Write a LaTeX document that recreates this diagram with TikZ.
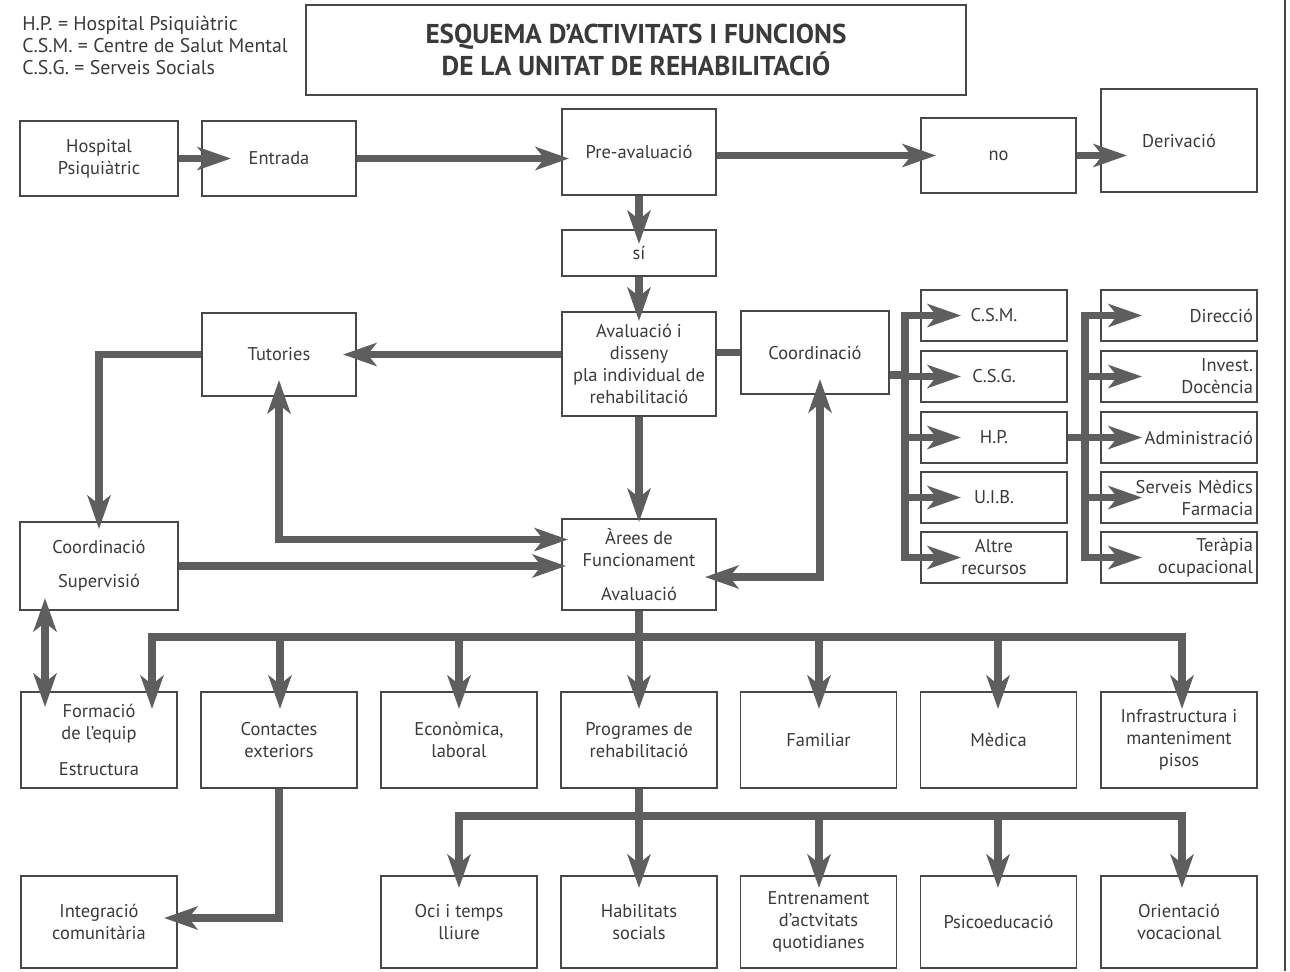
\documentclass[tikz,border=0pt]{standalone}
\usepackage{fontspec}
\setmainfont{PT Sans}
\usetikzlibrary{arrows.meta}
\begin{document}
\begin{tikzpicture}[x=0.02cm, y=-0.02cm]

\definecolor{linkgray}{HTML}{5E5E5E}
\definecolor{boxgray}{HTML}{484848}
\definecolor{textgray}{HTML}{3A3A3A}

%\path (0,0) grid (1290,971);
\useasboundingbox (0,0) rectangle (1290,971);

% styles
\pgfkeys{/txt/.style={text=textgray, node font=\fontsize{10.5}{12.5}\selectfont}} % base style for texts
\pgfkeys{/box/.style={/txt, draw=boxgray, line width=1.1pt, align=center, inner sep=0}} % boxes
\pgfkeys{/sz/.style 2 args={minimum width=#1*0.02cm, minimum height=#2*0.02cm}} % box size in pixels
\pgfkeys{/link/.style={draw=linkgray, line width=4.3pt, -{Stealth[length=19pt, width=13pt, inset=5pt]}}} % arrows
\pgfkeys{/both/.style={/link, {Stealth[length=19pt, width=13pt, inset=5pt]}-{Stealth[length=19pt, width=13pt, inset=5pt]}}} % double arrows
\pgfkeys{/bar/.style={draw=linkgray, line width=4.3pt}} % lines without tips
\pgfkeys{/dig/.style={shorten >=-#1*0.02cm}} % tip reaching into the box
\pgfkeys{/digback/.style={shorten <=-#1*0.02cm}}

% legend and title
\node[/txt, anchor=north west, align=left, inner sep=0, font=\fontsize{11.3}{12.5}\selectfont] (legend) at (22,16)
  {H.P. = Hospital Psiquiàtric\\C.S.M. = Centre de Salut Mental\\C.S.G. = Serveis Socials};
\node[/box, /sz={660}{90}, font=\bfseries\fontsize{15.5}{16.5}\selectfont] (title) at (636,50)
  {ESQUEMA D'ACTIVITATS I FUNCIONS\\DE LA UNITAT DE REHABILITACIÓ};

% first rows
\node[/box, /sz={158}{75}] (hosp) at (99,158.5) {Hospital\\Psiquiàtric};
\node[/box, /sz={154}{75}] (entrada) at (279,158.5) {Entrada};
\node[/box, /sz={154}{86}] (preav) at (639,152) {Pre-avaluació};
\node[/box, /sz={155}{75}] (no) at (998.5,155.5) {no};
\node[/box, /sz={156}{103}] (deriv) at (1179,140.5) {Derivació};
\node[/box, /sz={154}{46}] (si) at (639,253) {sí};
\node[/box, /sz={154}{104}] (aval) at (639,364) {Avaluació i\\disseny\\pla individual de\\rehabilitació};
\node[/box, /sz={148}{83}] (coord) at (815,352.5) {Coordinació};
\node[/box, /sz={154}{83}] (tut) at (279,354.5) {Tutories};
\node[/box, /sz={154}{91}] (arees) at (639,564.5) {Àrees de\\Funcionament\\[7pt]Avaluació};
\node[/box, /sz={158}{88}] (coordsup) at (99,566) {Coordinació\\[7pt]Supervisió};

% the two columns on the right
\foreach \n/\y/\t in {csm/315.5/C.S.M., csg/376.5/C.S.G., hp/437.5/H.P., uib/497.5/U.I.B., altre/557.5/{Altre\\recursos}} {
  \node[/box, /sz={146}{51}] (\n) at (994,\y) {\t};
}
\foreach \n/\y/\t in {direc/315.5/Direcció, invest/376.5/{Invest.\\Docència}, admin/437.5/Administració, serveis/497.5/{Serveis Mèdics\\Farmacia}, terapia/557.5/{Teràpia\\ocupacional}} {
  \node[/box, /sz={156}{51}, text width=148*0.02cm, align=right] (\n) at (1179,\y) {\t};
}

% row of areas
\foreach \n/\x/\t in {formacio/99/{Formació\\de l'equip\\[8pt]Estructura}, contactes/279/{Contactes\\exteriors}, economica/459/{Econòmica,\\laboral}, programes/639/{Programes de\\rehabilitació}, familiar/818.5/Familiar, medica/998.5/Mèdica, infra/1179/{Infrastructura i\\manteniment\\pisos}} {
  \node[/box, /sz={156}{96}] (\n) at (\x,740) {\t};
}
% row of programmes
\foreach \n/\x/\t in {integracio/99/{Integració\\comunitària}, oci/459/{Oci i temps\\lliure}, habilitats/639/{Habilitats\\socials}, entrenament/818.5/{Entrenament\\d'actvitats\\quotidianes}, psico/998.5/Psicoeducació, orientacio/1179/{Orientació\\vocacional}} {
  \node[/box, /sz={156}{92}] (\n) at (\x,922) {\t};
}

% frame line on the right
\draw[boxgray, line width=1.1pt] (1285,0) -- (1285,971);

% bus coordinates
\coordinate (busL) at (905,0);
\coordinate (busR) at (1085,0);
\coordinate (busA) at (0,637);
\coordinate (busB) at (0,816);

% entry flow
\draw[/link, /dig=30] (hosp.east) -- (hosp.east -| entrada.west);
\draw[/link, /dig=8] (entrada.east) -- (entrada.east -| preav.west);
\draw[/link, /dig=16] (preav.east |- no.west) -- (no.west);
\draw[/link, /dig=27] (no.east) -- (no.east -| deriv.west);
\draw[/link, /dig=15] (preav) -- (si);
\draw[/link, /dig=10] (si) -- (aval);

% around the individual plan
\draw[/link, /dig=14] (tut.east -| aval.west) -- (tut.east);
\draw[/bar] (aval.east |- coord.west) -- (coord.west);
\draw[/link, /dig=8] (tut.west) -| (coordsup.north);
\draw[/both, /digback=17, /dig=7] (tut.south) |- ([yshift=0.5cm]arees.west);
\draw[/link, /dig=5] (coordsup.east) -- (coordsup.east -| arees.west);
\draw[/both, /digback=16, /dig=12] ([xshift=0.1cm]coord.south) |- ([yshift=-0.25cm]arees.east);
\draw[/link, /dig=4] (aval) -- (arees);

% coordination with other services
\draw[/bar] ([yshift=-0.45cm]coord.east) -- ([yshift=-0.45cm]coord.east -| busL);
\draw[/bar, line cap=rect] (csm.west -| busL) -- (altre.west -| busL);
\foreach \n in {csm,csg,hp,uib,altre} {
  \draw[/link, /dig=41] (\n.west -| busL) -- (\n.west);
}
\draw[/bar] (hp.east) -- (hp.east -| busR);
\draw[/bar, line cap=rect] (direc.west -| busR) -- (terapia.west -| busR);
\foreach \n in {direc,invest,admin,serveis,terapia} {
  \draw[/link, /dig=42] (\n.west -| busR) -- (\n.west);
}

% areas
\draw[/bar] (arees.south) -- (arees.south |- busA);
\draw[/bar, line cap=rect] (152,637) -- (1182,637);
\foreach \n/\x in {formacio/152, contactes/280, economica/459, programes/639, familiar/819, medica/998, infra/1182} {
  \draw[/link, /dig=18] (\x,637) -- (\x,637 |- \n.north);
}
\draw[/both, /digback=13, /dig=16] ([xshift=-1.08cm]coordsup.south) -- ([xshift=-1.08cm]formacio.north);

% programmes
\draw[/bar] (programes.south) -- (programes.south |- busB);
\draw[/bar, line cap=rect] (459,816) -- (1182,816);
\foreach \n/\x in {oci/459, habilitats/639, entrenament/819, psico/998, orientacio/1182} {
  \draw[/link, /dig=13] (\x,816) -- (\x,816 |- \n.north);
}
\draw[/link, /dig=14] (contactes.south) |- ([yshift=0.08cm]integracio.east);

\end{tikzpicture}
\end{document}
